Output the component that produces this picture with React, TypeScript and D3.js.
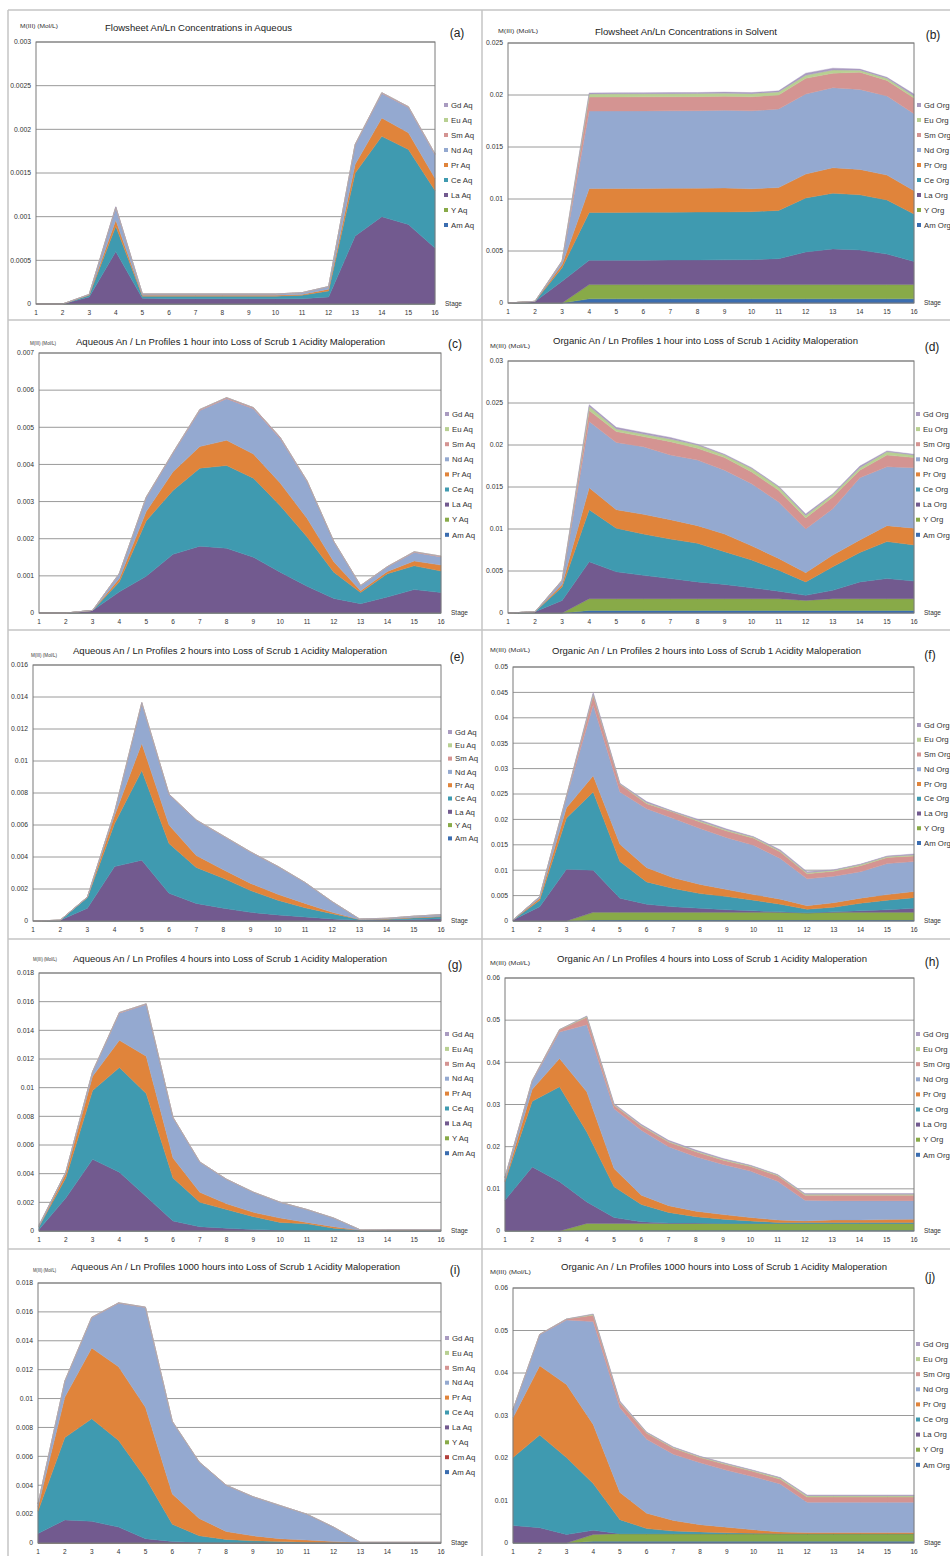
import React from "react";
import * as d3 from "d3";

// stages on the x axis
const stageLabels = ["1", "2", "3", "4", "5", "6", "7", "8", "9", "10", "11", "12", "13", "14", "15", "16"];

// stack order, bottom to top
const baseKeys = ["Am", "Y", "La", "Ce", "Pr", "Nd", "Sm", "Eu", "Gd"];
const keysWithCm = ["Am", "Cm", "Y", "La", "Ce", "Pr", "Nd", "Sm", "Eu", "Gd"];

const colors: Record<string, string> = {
  Am: "#3b6db0",
  Cm: "#b2403c",
  Y: "#88aa48",
  La: "#725a8f",
  Ce: "#3f9ab0",
  Pr: "#e0843b",
  Nd: "#94a9d0",
  Sm: "#d49492",
  Eu: "#b8d092",
  Gd: "#a99bc0",
};

const z16 = [0, 0, 0, 0, 0, 0, 0, 0, 0, 0, 0, 0, 0, 0, 0, 0];

// (a) flowsheet, aqueous
const aqFlowsheet: Record<string, number[]> = {
  Am: z16,
  Y: z16,
  La: [0, 0, 0.00008, 0.0006, 0.000065, 0.00006, 0.00006, 0.00006, 0.00006, 0.00006, 0.00006, 0.00008, 0.00078, 0.001, 0.00091, 0.00064],
  Ce: [0, 0, 0.00002, 0.00029, 0.000025, 0.00003, 0.00003, 0.00003, 0.00003, 0.00003, 0.00004, 0.00007, 0.00072, 0.00092, 0.00086, 0.00066],
  Pr: [0, 0, 0.000005, 0.00007, 0.00001, 0.00001, 0.00001, 0.00001, 0.00001, 0.00001, 0.00001, 0.00002, 0.0001, 0.00021, 0.00019, 0.00014],
  Nd: [0, 0, 0.000005, 0.00014, 0.000015, 0.000015, 0.000015, 0.000015, 0.000015, 0.000015, 0.00002, 0.00003, 0.00022, 0.00028, 0.00029, 0.00027],
  Sm: [0, 0, 0, 0.00001, 0, 0, 0, 0, 0, 0, 0, 0, 0.00001, 0.00001, 0.00001, 0.00001],
  Eu: z16,
  Gd: [0, 0, 0, 0.000005, 0, 0, 0, 0, 0, 0, 0, 0, 0, 0, 0, 0],
};

// (b) flowsheet, solvent
const orgFlowsheet: Record<string, number[]> = {
  Am: [0, 0, 0, 0.0004, 0.0004, 0.0004, 0.0004, 0.0004, 0.0004, 0.0004, 0.0004, 0.0004, 0.0004, 0.0004, 0.0004, 0.0004],
  Y: [0, 0, 0, 0.00137, 0.00137, 0.00137, 0.00137, 0.00137, 0.00137, 0.00137, 0.00137, 0.00137, 0.00137, 0.00137, 0.00137, 0.00137],
  La: [0, 0.00015, 0.0021, 0.00233, 0.00234, 0.00235, 0.00236, 0.00237, 0.00238, 0.0024, 0.00249, 0.00313, 0.00343, 0.00333, 0.00293, 0.00223],
  Ce: [0, 0.00001, 0.0013, 0.0046, 0.0046, 0.0046, 0.0046, 0.0046, 0.0046, 0.00461, 0.00464, 0.0052, 0.00535, 0.0053, 0.0052, 0.00455],
  Pr: [0, 0, 0.0003, 0.0023, 0.0023, 0.0023, 0.0023, 0.0023, 0.0023, 0.0022, 0.0022, 0.0023, 0.00245, 0.00244, 0.0024, 0.00225],
  Nd: [0, 0, 0.0003, 0.00745, 0.00745, 0.00745, 0.00745, 0.00745, 0.00748, 0.0075, 0.00755, 0.0077, 0.0077, 0.0077, 0.0076, 0.0074],
  Sm: [0, 0, 0.00005, 0.00135, 0.00135, 0.00135, 0.00135, 0.00135, 0.00135, 0.00135, 0.00135, 0.0015, 0.0014, 0.00165, 0.0015, 0.0015],
  Eu: [0, 0, 0, 0.0003, 0.0003, 0.0003, 0.0003, 0.0003, 0.0003, 0.0003, 0.0003, 0.0003, 0.0003, 0.0002, 0.0002, 0.0002],
  Gd: [0, 0, 0, 0.0001, 0.0001, 0.0001, 0.0001, 0.0001, 0.0001, 0.0001, 0.0001, 0.0002, 0.00018, 0.0001, 0.0001, 0.0002],
};

// (c) aqueous, 1 hour
const aq1h: Record<string, number[]> = {
  Am: z16,
  Y: z16,
  La: [0, 0, 0.00007, 0.00057, 0.00099, 0.00158, 0.0018, 0.00174, 0.0015, 0.0011, 0.00072, 0.00039, 0.00025, 0.00043, 0.00063, 0.00055],
  Ce: [0, 0, 0, 0.00027, 0.00149, 0.00172, 0.0021, 0.00223, 0.00213, 0.00179, 0.00133, 0.00071, 0.0003, 0.00063, 0.00064, 0.00058],
  Pr: [0, 0, 0, 0.00009, 0.00025, 0.0005, 0.00058, 0.00068, 0.00065, 0.00061, 0.0005, 0.00028, 0.00005, 0.00006, 0.00013, 0.00016],
  Nd: [0, 0, 0, 0.00013, 0.00037, 0.0005, 0.00097, 0.00112, 0.00122, 0.0012, 0.00099, 0.00054, 0.00013, 0.00012, 0.00023, 0.00022],
  Sm: [0, 0, 0, 0.00001, 0.00002, 0.00002, 0.00003, 0.00003, 0.00003, 0.00003, 0.00002, 0.00001, 0.00001, 0.00001, 0.00002, 0.00002],
  Eu: z16,
  Gd: z16,
};

// (d) organic, 1 hour
const org1h: Record<string, number[]> = {
  Am: [0, 0, 0, 0.0003, 0.0003, 0.0003, 0.0003, 0.0003, 0.0003, 0.0003, 0.0003, 0.0003, 0.0003, 0.0003, 0.0003, 0.0003],
  Y: [0, 0, 0, 0.0014, 0.0014, 0.0014, 0.0014, 0.0014, 0.0014, 0.0014, 0.0014, 0.0012, 0.0014, 0.0014, 0.0014, 0.0014],
  La: [0, 0.00015, 0.0015, 0.0044, 0.0032, 0.00278, 0.0024, 0.002, 0.0017, 0.0013, 0.0009, 0.0006, 0.001, 0.002, 0.0024, 0.0021],
  Ce: [0, 0, 0.0016, 0.0062, 0.0052, 0.00492, 0.0047, 0.0046, 0.0039, 0.0033, 0.0025, 0.0016, 0.0028, 0.0035, 0.0044, 0.0043],
  Pr: [0, 0, 0.0003, 0.0026, 0.0022, 0.00235, 0.0023, 0.0021, 0.0021, 0.0017, 0.0014, 0.0011, 0.0014, 0.0015, 0.0019, 0.002],
  Nd: [0, 0, 0.0004, 0.0079, 0.008, 0.00805, 0.0077, 0.0078, 0.0076, 0.0074, 0.0067, 0.0052, 0.0055, 0.0074, 0.007, 0.0072],
  Sm: [0, 0, 0.0001, 0.0013, 0.0013, 0.0012, 0.0016, 0.0014, 0.0015, 0.0014, 0.0014, 0.0013, 0.0014, 0.0009, 0.0014, 0.0012],
  Eu: [0, 0, 0, 0.0005, 0.0003, 0.0003, 0.0003, 0.0004, 0.0003, 0.0004, 0.0004, 0.0003, 0.0003, 0.0003, 0.0004, 0.0003],
  Gd: [0, 0, 0, 0.0002, 0.0002, 0.0002, 0.0002, 0.0001, 0.0001, 0.0001, 0.0001, 0.0002, 0.0001, 0.0002, 0.0001, 0.0001],
};

// (e) aqueous, 2 hours
const aq2h: Record<string, number[]> = {
  Am: z16,
  Y: z16,
  La: [0, 0.00005, 0.0008, 0.0034, 0.0038, 0.00173, 0.0011, 0.0008, 0.00054, 0.00038, 0.00025, 0.00013, 0.00005, 0.00006, 0.0001, 0.00014],
  Ce: [0, 0, 0.00066, 0.0027, 0.0056, 0.00312, 0.00225, 0.00187, 0.00136, 0.00092, 0.00058, 0.00033, 0.00004, 0.00005, 0.00009, 0.00012],
  Pr: [0, 0, 0.00002, 0.0005, 0.0017, 0.00115, 0.00075, 0.00053, 0.00045, 0.00037, 0.00027, 0.00008, 0.00001, 0.00001, 0.00003, 0.00004],
  Nd: [0, 0, 0.00002, 0.0002, 0.0025, 0.0019, 0.0022, 0.0021, 0.00195, 0.00173, 0.0013, 0.00066, 0.00003, 0.00005, 0.00008, 0.0001],
  Sm: [0, 0, 0, 0.00002, 0.00005, 0.00003, 0.00002, 0.00002, 0.00002, 0.00002, 0.00001, 0.00001, 0, 0, 0, 0],
  Eu: z16,
  Gd: z16,
};

// (f) organic, 2 hours
const org2h: Record<string, number[]> = {
  Am: [0, 0, 0, 0.0002, 0.0002, 0.0002, 0.0002, 0.0002, 0.0002, 0.0002, 0.0002, 0.0002, 0.0002, 0.0002, 0.0002, 0.0002],
  Y: [0, 0, 0, 0.0015, 0.0015, 0.0015, 0.0015, 0.0015, 0.0015, 0.0015, 0.0015, 0.0014, 0.0015, 0.0015, 0.0015, 0.0015],
  La: [0.0002, 0.0028, 0.0102, 0.0083, 0.0028, 0.0016, 0.0011, 0.0008, 0.0005, 0.0003, 0.0001, 0, 0.0001, 0.0003, 0.0005, 0.0008],
  Ce: [0, 0.0013, 0.0101, 0.0154, 0.0072, 0.0044, 0.0036, 0.0029, 0.0026, 0.0021, 0.0015, 0.0007, 0.0009, 0.0015, 0.0019, 0.0021],
  Pr: [0, 0.0004, 0.002, 0.0032, 0.0034, 0.0028, 0.0021, 0.0018, 0.0014, 0.0011, 0.001, 0.0007, 0.0009, 0.001, 0.0011, 0.0012],
  Nd: [0, 0.0003, 0.0021, 0.0139, 0.0103, 0.0116, 0.0117, 0.011, 0.0102, 0.0097, 0.008, 0.0053, 0.0052, 0.0052, 0.0061, 0.0059],
  Sm: [0, 0, 0.0002, 0.0019, 0.0015, 0.001, 0.0012, 0.0013, 0.0013, 0.0014, 0.0013, 0.001, 0.001, 0.0012, 0.0012, 0.0011],
  Eu: [0, 0, 0, 0.0003, 0.0001, 0.0002, 0.0001, 0.0002, 0.0002, 0.0002, 0.0002, 0.0002, 0.0002, 0.0002, 0.0002, 0.0002],
  Gd: [0, 0, 0, 0.0003, 0.0001, 0.0002, 0.0001, 0.0002, 0.0002, 0.0001, 0.0002, 0.0002, 0.0001, 0.0001, 0.0001, 0.0002],
};

// (g) aqueous, 4 hours
const aq4h: Record<string, number[]> = {
  Am: z16,
  Y: z16,
  La: [0.0001, 0.0023, 0.005, 0.0041, 0.0024, 0.0007, 0.0003, 0.0002, 0.0001, 0.00005, 0.00003, 0.00002, 0.00001, 0.00001, 0.00001, 0.00001],
  Ce: [0.0002, 0.0014, 0.0048, 0.0073, 0.0072, 0.003, 0.0017, 0.0013, 0.0009, 0.00055, 0.00047, 0.00018, 0.00004, 0.00005, 0.00005, 0.00005],
  Pr: [0, 0.0003, 0.001, 0.0019, 0.0026, 0.0014, 0.0007, 0.0004, 0.0003, 0.0003, 0.0001, 0.0001, 0.00001, 0.00001, 0.00001, 0.00001],
  Nd: [0.0001, 0.0001, 0.0003, 0.0019, 0.0036, 0.0028, 0.0021, 0.0017, 0.0014, 0.0011, 0.0009, 0.0006, 0.00001, 0.00001, 0.00001, 0.00001],
  Sm: [0, 0, 0.00003, 0.00005, 0.00005, 0.00003, 0.00002, 0.00001, 0.00001, 0.00001, 0, 0, 0, 0, 0, 0],
  Eu: z16,
  Gd: z16,
};

// (h) organic, 4 hours
const org4h: Record<string, number[]> = {
  Am: [0, 0, 0, 0.0002, 0.0002, 0.0002, 0.0002, 0.0002, 0.0002, 0.0002, 0.0002, 0.0002, 0.0002, 0.0002, 0.0002, 0.0002],
  Y: [0, 0, 0, 0.0016, 0.0016, 0.0016, 0.0016, 0.0016, 0.0016, 0.0016, 0.0016, 0.0016, 0.0016, 0.0016, 0.0016, 0.0016],
  La: [0.0073, 0.0152, 0.0117, 0.0051, 0.0014, 0.0004, 0.0001, 0.0001, 0, 0, 0, 0, 0, 0, 0, 0],
  Ce: [0.0044, 0.0156, 0.0225, 0.0166, 0.0073, 0.0041, 0.0025, 0.0015, 0.001, 0.0006, 0.0002, 0.0002, 0.0002, 0.0002, 0.0002, 0.0002],
  Pr: [0.0003, 0.0028, 0.0067, 0.0095, 0.0043, 0.0022, 0.0016, 0.0013, 0.0011, 0.0008, 0.0006, 0.0004, 0.0006, 0.0006, 0.0007, 0.0008],
  Nd: [0.0006, 0.0019, 0.0063, 0.0159, 0.0142, 0.0154, 0.014, 0.0129, 0.0119, 0.011, 0.0092, 0.0049, 0.0046, 0.0046, 0.0045, 0.0044],
  Sm: [0.0001, 0.0002, 0.0005, 0.0018, 0.0008, 0.001, 0.0011, 0.0012, 0.001, 0.0011, 0.0013, 0.0012, 0.0013, 0.0013, 0.0013, 0.0013],
  Eu: [0, 0, 0.0001, 0.0002, 0.0002, 0.0002, 0.0002, 0.0002, 0.0002, 0.0002, 0.0002, 0.0002, 0.0002, 0.0002, 0.0002, 0.0002],
  Gd: [0, 0, 0, 0.0001, 0.0002, 0.0002, 0.0002, 0.0002, 0.0002, 0.0001, 0.0001, 0.0002, 0.0002, 0.0002, 0.0002, 0.0002],
};

// (i) aqueous, 1000 hours
const aq1000h: Record<string, number[]> = {
  Am: z16,
  Cm: z16,
  Y: z16,
  La: [0.00065, 0.0016, 0.0015, 0.0011, 0.0003, 0.0001, 0.00003, 0.00002, 0.00001, 0.00001, 0, 0, 0, 0, 0, 0],
  Ce: [0.00155, 0.0057, 0.0071, 0.006, 0.0042, 0.0012, 0.00047, 0.00023, 0.00014, 0.00009, 0.00005, 0.00003, 0.00002, 0.00002, 0.00002, 0.00002],
  Pr: [0.0003, 0.0028, 0.0049, 0.0051, 0.0049, 0.0021, 0.0012, 0.00055, 0.00035, 0.0002, 0.00015, 0.00007, 0.00001, 0.00001, 0.00001, 0.00001],
  Nd: [0.0002, 0.0011, 0.0021, 0.0044, 0.0069, 0.005, 0.0039, 0.0032, 0.0027, 0.0023, 0.0018, 0.001, 0.00002, 0.00002, 0.00002, 0.00002],
  Sm: [0, 0.00002, 0.00003, 0.00003, 0.00003, 0.00002, 0.00001, 0.00001, 0.00001, 0, 0, 0, 0, 0, 0, 0],
  Eu: z16,
  Gd: z16,
};

// (j) organic, 1000 hours
const org1000h: Record<string, number[]> = {
  Am: [0, 0, 0, 0.0004, 0.0004, 0.0004, 0.0004, 0.0004, 0.0004, 0.0004, 0.0004, 0.0004, 0.0004, 0.0004, 0.0004, 0.0004],
  Y: [0, 0, 0, 0.0016, 0.0018, 0.0018, 0.0018, 0.0018, 0.0018, 0.0018, 0.0018, 0.0018, 0.0018, 0.0018, 0.0018, 0.0018],
  La: [0.0041, 0.0036, 0.002, 0.001, 0, 0, 0, 0, 0, 0, 0, 0, 0, 0, 0, 0],
  Ce: [0.016, 0.0218, 0.0181, 0.011, 0.0033, 0.0012, 0.0006, 0.0004, 0.0002, 0.0001, 0, 0, 0, 0, 0, 0],
  Pr: [0.0094, 0.0163, 0.0172, 0.0139, 0.0064, 0.0036, 0.0025, 0.0017, 0.0013, 0.0008, 0.0004, 0.0003, 0.0003, 0.0003, 0.0003, 0.0003],
  Nd: [0.0019, 0.0073, 0.0152, 0.0242, 0.0199, 0.0174, 0.0156, 0.0146, 0.0134, 0.0125, 0.0113, 0.0071, 0.0071, 0.0071, 0.0071, 0.0071],
  Sm: [0, 0.0001, 0.0002, 0.0015, 0.0012, 0.0014, 0.0014, 0.0012, 0.0013, 0.0012, 0.0011, 0.0012, 0.0012, 0.0012, 0.0012, 0.0012],
  Eu: [0, 0, 0, 0.0002, 0.0002, 0.0002, 0.0002, 0.0002, 0.0002, 0.0002, 0.0003, 0.0003, 0.0003, 0.0003, 0.0003, 0.0003],
  Gd: [0, 0, 0, 0.0001, 0.0002, 0.0001, 0.0001, 0.0001, 0.0001, 0.0001, 0.0001, 0.0002, 0.0002, 0.0002, 0.0002, 0.0002],
};

const panelTitles = [
  "Flowsheet An/Ln Concentrations in Aqueous",
  "Flowsheet An/Ln Concentrations in Solvent",
  "Aqueous An / Ln Profiles 1 hour into Loss of Scrub 1 Acidity Maloperation",
  "Organic An / Ln Profiles 1 hour into Loss of Scrub 1 Acidity Maloperation",
  "Aqueous An / Ln Profiles 2 hours into Loss of Scrub 1 Acidity Maloperation",
  "Organic An / Ln Profiles 2 hours into Loss of Scrub 1 Acidity Maloperation",
  "Aqueous An / Ln Profiles 4 hours into Loss of Scrub 1 Acidity Maloperation",
  "Organic An / Ln Profiles 4 hours into Loss of Scrub 1 Acidity Maloperation",
  "Aqueous An / Ln Profiles 1000 hours into Loss of Scrub 1 Acidity Maloperation",
  "Organic An / Ln Profiles 1000 hours into Loss of Scrub 1 Acidity Maloperation",
];
const panelLetters = ["(a)", "(b)", "(c)", "(d)", "(e)", "(f)", "(g)", "(h)", "(i)", "(j)"];
const panelValues = [aqFlowsheet, orgFlowsheet, aq1h, org1h, aq2h, org2h, aq4h, org4h, aq1000h, org1000h];
const panelKeys = [baseKeys, baseKeys, baseKeys, baseKeys, baseKeys, baseKeys, baseKeys, baseKeys, keysWithCm, baseKeys];
const yTickLabels = [
  ["0", "0.0005", "0.001", "0.0015", "0.002", "0.0025", "0.003"],
  ["0", "0.005", "0.01", "0.015", "0.02", "0.025"],
  ["0", "0.001", "0.002", "0.003", "0.004", "0.005", "0.006", "0.007"],
  ["0", "0.005", "0.01", "0.015", "0.02", "0.025", "0.03"],
  ["0", "0.002", "0.004", "0.006", "0.008", "0.01", "0.012", "0.014", "0.016"],
  ["0", "0.005", "0.01", "0.015", "0.02", "0.025", "0.03", "0.035", "0.04", "0.045", "0.05"],
  ["0", "0.002", "0.004", "0.006", "0.008", "0.01", "0.012", "0.014", "0.016", "0.018"],
  ["0", "0.01", "0.02", "0.03", "0.04", "0.05", "0.06"],
  ["0", "0.002", "0.004", "0.006", "0.008", "0.01", "0.012", "0.014", "0.016", "0.018"],
  ["0", "0.01", "0.02", "0.03", "0.04", "0.05", "0.06"],
];
const unitLabel = "M(III) (Mol/L)";

// page geometry of each panel
const layout = [
  { l: 36, r: 435, t: 42, b: 304, tx: [105, 292], ty: 28, ux: [20, 58], uy: 26, lx: 457, ly: 33, gx: 446, gy: 105, gs: 15 },
  { l: 508, r: 914, t: 43, b: 303, tx: [595, 777], ty: 32, ux: [498, 538], uy: 31, lx: 933, ly: 35, gx: 919, gy: 105, gs: 15 },
  { l: 39, r: 441, t: 353, b: 613, tx: [76, 385], ty: 342, ux: [30, 56], uy: 343, lx: 455, ly: 344, gx: 447, gy: 414, gs: 15.1 },
  { l: 508, r: 914, t: 361, b: 613, tx: [553, 858], ty: 341, ux: [490, 530], uy: 346, lx: 932, ly: 347, gx: 918, gy: 414, gs: 15.1 },
  { l: 33, r: 441, t: 665, b: 921, tx: [73, 387], ty: 651, ux: [31, 57], uy: 655, lx: 457, ly: 657, gx: 450, gy: 732, gs: 13.3 },
  { l: 513, r: 914, t: 667, b: 921, tx: [552, 861], ty: 651, ux: [490, 530], uy: 650, lx: 930, ly: 655, gx: 919, gy: 725, gs: 14.75 },
  { l: 39, r: 441, t: 973, b: 1231, tx: [73, 387], ty: 959, ux: [33, 57], uy: 959, lx: 455, ly: 965, gx: 447, gy: 1034, gs: 14.9 },
  { l: 505, r: 914, t: 978, b: 1231, tx: [557, 867], ty: 959, ux: [490, 530], uy: 963, lx: 932, ly: 962, gx: 918, gy: 1034, gs: 15.1 },
  { l: 38, r: 441, t: 1283, b: 1543, tx: [71, 400], ty: 1267, ux: [33, 56], uy: 1270, lx: 455, ly: 1270, gx: 447, gy: 1338, gs: 14.9 },
  { l: 513, r: 914, t: 1288, b: 1543, tx: [561, 887], ty: 1267, ux: [490, 531], uy: 1272, lx: 930, ly: 1277, gx: 918, gy: 1344, gs: 15.1 },
];

const font = "'Liberation Sans', Arial, sans-serif";

function Panel({ idx }: { idx: number }) {
  const g = layout[idx];
  const keys = panelKeys[idx];
  const vals = panelValues[idx];
  const ticks = yTickLabels[idx];
  const yMax = +ticks[ticks.length - 1];
  const suffix = idx % 2 === 0 ? " Aq" : " Org";

  const x = d3.scalePoint<string>().domain(stageLabels).range([g.l, g.r]);
  const y = d3.scaleLinear().domain([0, yMax]).range([g.b, g.t]);

  const rows = stageLabels.map((s, i) => {
    const row: Record<string, number> = {};
    keys.forEach((k) => (row[k] = vals[k][i]));
    return row;
  });
  const series = d3.stack<Record<string, number>>().keys(keys)(rows);
  const area = d3
    .area<d3.SeriesPoint<Record<string, number>>>()
    .x((_, i) => x(stageLabels[i]) as number)
    .y0((d) => y(d[0]))
    .y1((d) => y(d[1]));

  const legend = keys.slice().reverse();

  return (
    <g>
      {ticks.map((t) => (
        <g key={t}>
          <line x1={g.l} x2={g.r} y1={y(+t)} y2={y(+t)} stroke="#9a9a9a" strokeWidth={1} />
          <text x={g.l - 5} y={y(+t) + 2.3} fontSize={6.8} textAnchor="end" fill="#333" fontFamily={font}>
            {t}
          </text>
        </g>
      ))}
      {series.map((s) => (
        <path key={s.key} d={area(s) || ""} fill={colors[s.key]} stroke={colors[s.key]} strokeWidth={0.4} />
      ))}
      <rect x={g.l} y={g.t} width={g.r - g.l} height={g.b - g.t} fill="none" stroke="#7a7a7a" strokeWidth={1} />
      {stageLabels.map((s) => (
        <text key={s} x={x(s)} y={g.b + 11} fontSize={6.5} textAnchor="middle" fill="#333" fontFamily={font}>
          {s}
        </text>
      ))}
      <text x={g.r + 10} y={g.b + 2} fontSize={6.5} fill="#333" fontFamily={font}>
        Stage
      </text>
      <text
        x={g.tx[0]}
        y={g.ty + 3}
        fontSize={idx < 2 ? 9 : 8.5}
        textLength={g.tx[1] - g.tx[0]}
        lengthAdjust="spacingAndGlyphs"
        fill="#222"
        fontFamily={font}
      >
        {panelTitles[idx]}
      </text>
      <text
        x={g.ux[0]}
        y={g.uy + 2}
        fontSize={5.5}
        textLength={g.ux[1] - g.ux[0]}
        lengthAdjust="spacingAndGlyphs"
        fill="#333"
        fontFamily={font}
      >
        {unitLabel}
      </text>
      <text x={g.lx} y={g.ly + 4} fontSize={12} textAnchor="middle" fill="#222" fontFamily={font}>
        {panelLetters[idx]}
      </text>
      {legend.map((k, i) => (
        <g key={k} transform={`translate(${g.gx},${g.gy + i * g.gs})`}>
          <rect x={-2} y={-2} width={4} height={4} fill={colors[k]} />
          <text x={5} y={2.7} fontSize={7.8} fill="#333" fontFamily={font}>
            {k + suffix}
          </text>
        </g>
      ))}
    </g>
  );
}

// cell separators
const rowEdges = [10, 320, 630, 939, 1249];

export default function App() {
  return (
    <svg
      width={950}
      height={1556}
      style={{ position: "absolute", left: 0, top: 0, background: "#fff" }}
    >
      <rect x={0} y={0} width={950} height={1556} fill="#fff" />
      <line x1={8} x2={8} y1={10} y2={1556} stroke="#c4c4c4" strokeWidth={1.5} />
      <line x1={482} x2={482} y1={10} y2={1556} stroke="#c4c4c4" strokeWidth={1.5} />
      {rowEdges.map((ry) => (
        <line key={ry} x1={8} x2={950} y1={ry} y2={ry} stroke="#c4c4c4" strokeWidth={1.5} />
      ))}
      {panelTitles.map((_, i) => (
        <Panel key={i} idx={i} />
      ))}
    </svg>
  );
}
